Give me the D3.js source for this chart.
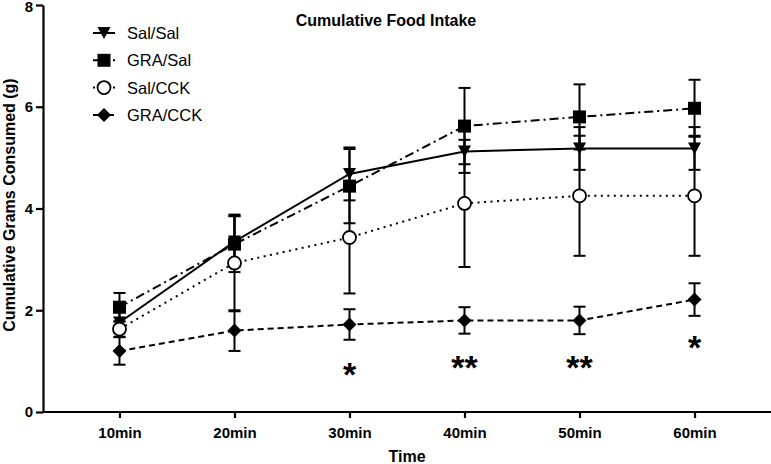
<!DOCTYPE html>
<html><head><meta charset="utf-8">
<script src="https://cdn.jsdelivr.net/npm/d3@7"></script>
<style>body{margin:0;background:#fff}svg{display:block;font-family:"Liberation Sans",Arial,sans-serif}</style>
</head><body><svg id="c" width="771" height="464"></svg>
<script>
const categories = ["10min","20min","30min","40min","50min","60min"];
const salSal     = [1.76, 3.35, 4.68, 5.12, 5.18, 5.18];
const salSalErr  = [0.20, 0.50, 0.52, 0.42, 0.42, 0.42];
const graSal     = [2.06, 3.30, 4.44, 5.62, 5.80, 5.97];
const graSalErr  = [0.28, 0.55, 0.73, 0.75, 0.64, 0.56];
const salCck     = [1.63, 2.93, 3.43, 4.10, 4.25, 4.25];
const salCckErr  = [0.15, 0.95, 1.10, 1.25, 1.18, 1.18];
const graCck     = [1.20, 1.60, 1.72, 1.80, 1.80, 2.21];
const graCckErr  = [0.27, 0.40, 0.30, 0.26, 0.27, 0.32];
const yTicks = [0, 2, 4, 6, 8];
const stars = ["", "", "*", "**", "**", "*"];
const starLevel = [0, 0, 0.88, 1.02, 1.02, 1.41];

const series = [
  {name:"Sal/Sal", v:salSal, e:salSalErr, sym:"tri", dash:null},
  {name:"GRA/Sal", v:graSal, e:graSalErr, sym:"sq", dash:"9,4,2,4"},
  {name:"Sal/CCK", v:salCck, e:salCckErr, sym:"circ", dash:"2,4.5"},
  {name:"GRA/CCK", v:graCck, e:graCckErr, sym:"dia", dash:"6,4"}
];

const svg = d3.select("#c");
const x = d3.scalePoint().domain(categories).range([43, 771]).padding(0.665);
const y = d3.scaleLinear().domain([0, 8]).range([412, 5]);

function drawSym(g, sym, cx, cy) {
  if (sym === "tri") g.append("path").attr("d", `M${cx-6.5},${cy-6}L${cx+6.5},${cy-6}L${cx},${cy+6}Z`).attr("fill","#000");
  else if (sym === "sq") g.append("rect").attr("x",cx-6.5).attr("y",cy-6.5).attr("width",13).attr("height",13).attr("fill","#000");
  else if (sym === "circ") g.append("circle").attr("cx",cx).attr("cy",cy).attr("r",6.5).attr("fill","#fff").attr("stroke","#000").attr("stroke-width",1.8);
  else g.append("path").attr("d", `M${cx},${cy-7}L${cx+7},${cy}L${cx},${cy+7}L${cx-7},${cy}Z`).attr("fill","#000");
}

// axes
const yAxis = svg.append("g").attr("transform","translate(43,0)")
  .call(d3.axisLeft(y).tickValues(yTicks).tickSize(7).tickPadding(3).tickSizeOuter(0));
const xAxis = svg.append("g").attr("transform","translate(0,412)")
  .call(d3.axisBottom(x).tickSize(6).tickSizeOuter(0));
[yAxis, xAxis].forEach(a => {
  a.select(".domain").attr("stroke-width", 2.2);
  a.selectAll(".tick line").attr("stroke-width", 2.2);
  a.selectAll("text").attr("font-size", 15).attr("font-weight","bold").attr("fill","#000")
   .attr("font-family", '"Liberation Sans",Arial,sans-serif');
});
xAxis.select(".domain").attr("d","M43,0H771");
xAxis.selectAll("text").attr("y", 26).attr("dy", null);
yAxis.selectAll(".tick").filter(d => d === 8).select("text").attr("dy", "0.4em");

// error bars
series.forEach(s => {
  const g = svg.append("g");
  s.v.forEach((v,i) => {
    const cx = x(categories[i]);
    const t = y(v + s.e[i]), b = y(v - s.e[i]);
    g.append("line").attr("x1",cx).attr("x2",cx).attr("y1",t).attr("y2",b).attr("stroke","#000").attr("stroke-width",2);
    [t,b].forEach(yy => g.append("line").attr("x1",cx-6).attr("x2",cx+6).attr("y1",yy).attr("y2",yy).attr("stroke","#000").attr("stroke-width",2));
  });
});

// lines and markers
const line = d3.line().x((d,i)=>x(categories[i])).y(d=>y(d));
series.forEach(s => {
  const p = svg.append("path").datum(s.v).attr("d", line).attr("fill","none").attr("stroke","#000").attr("stroke-width",2);
  if (s.dash) p.attr("stroke-dasharray", s.dash);
});
series.forEach(s => {
  const g = svg.append("g");
  s.v.forEach((v,i) => drawSym(g, s.sym, x(categories[i]), y(v)));
});

// significance stars
stars.forEach((st,i) => {
  if (!st) return;
  svg.append("text").attr("x", x(categories[i])).attr("y", y(starLevel[i]) + 19)
    .attr("text-anchor","middle").attr("font-size", 34).attr("font-weight","bold").text(st);
});

// legend
series.forEach((s,i) => {
  const ly = 33 + i*27.3;
  const g = svg.append("g");
  const l = g.append("line").attr("x1",93).attr("x2",115).attr("y1",ly).attr("y2",ly).attr("stroke","#000").attr("stroke-width",2);
  if (s.dash) l.attr("stroke-dasharray", s.sym==="sq" ? "12,3,2,3" : s.sym==="circ" ? "2,3" : "5,3");
  drawSym(g, s.sym, 104, ly);
  g.append("text").attr("x",127).attr("y",ly+6).attr("font-size",16.5).text(s.name);
});

// titles
svg.append("text").attr("x",386).attr("y",26).attr("text-anchor","middle").attr("font-size",16).attr("font-weight","bold").text("Cumulative Food Intake");
svg.append("text").attr("x",407).attr("y",462).attr("text-anchor","middle").attr("font-size",16).attr("font-weight","bold").text("Time");
svg.append("text").attr("transform","translate(15,205) rotate(-90)").attr("text-anchor","middle").attr("font-size",16).attr("font-weight","bold").text("Cumulative Grams Consumed (g)");
</script></body></html>
